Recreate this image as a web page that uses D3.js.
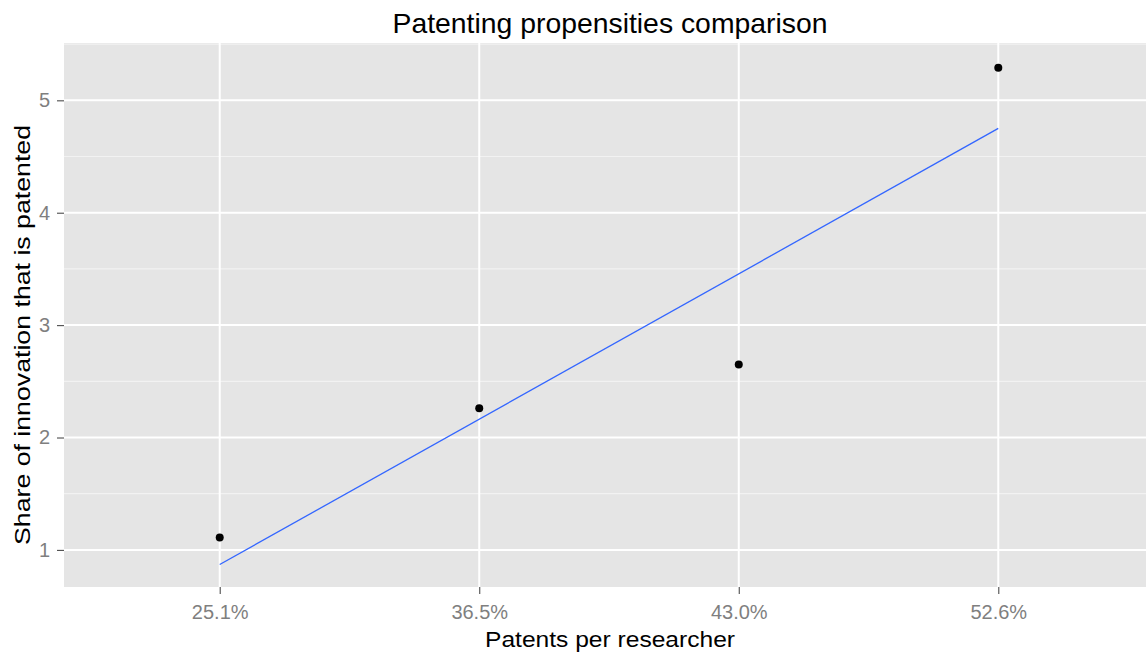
<!DOCTYPE html>
<html>
<head>
<meta charset="utf-8">
<script src="https://cdn.jsdelivr.net/npm/d3@7"></script>
<style>
  html, body { margin: 0; padding: 0; background: #ffffff; }
  svg { display: block; }
</style>
</head>
<body>
<svg id="chart" width="1146" height="653"></svg>
<script>
// ---- data ----
const categories = ["25.1%", "36.5%", "43.0%", "52.6%"];
const shareValues = [1.11, 2.26, 2.65, 5.29];
const fitValues = [0.87, 4.75];          // fitted line at first and last category
const yTicks = [1, 2, 3, 4, 5];
const yMinorTicks = [1.5, 2.5, 3.5, 4.5, 5.5];
const yDomain = [0.67, 5.51];
const titleText = "Patenting propensities comparison";
const xTitle = "Patents per researcher";
const yTitle = "Share of innovation that is patented";

// ---- layout ----
const W = 1146, H = 653;
const panel = { left: 64, right: 1154, top: 43, bottom: 587 };
const fontFam = "'Liberation Sans', Arial, Helvetica, sans-serif";

const svg = d3.select("#chart");

const x = d3.scalePoint().domain(categories)
  .range([panel.left, panel.right]).padding(0.6);
const y = d3.scaleLinear().domain(yDomain)
  .range([panel.bottom, panel.top]);

// panel background
svg.append("rect")
  .attr("x", panel.left).attr("y", panel.top)
  .attr("width", panel.right - panel.left)
  .attr("height", panel.bottom - panel.top)
  .attr("fill", "#E5E5E5");

const grid = svg.append("g");
// minor y gridlines
grid.selectAll("line.minor").data(yMinorTicks.filter(v => v >= yDomain[0] && v <= yDomain[1]))
  .join("line").attr("class", "minor")
  .attr("x1", panel.left).attr("x2", panel.right)
  .attr("y1", d => y(d)).attr("y2", d => y(d))
  .attr("stroke", "#F2F2F2").attr("stroke-width", 1.2);
// major y gridlines
grid.selectAll("line.majy").data(yTicks)
  .join("line").attr("class", "majy")
  .attr("x1", panel.left).attr("x2", panel.right)
  .attr("y1", d => y(d)).attr("y2", d => y(d))
  .attr("stroke", "#FFFFFF").attr("stroke-width", 2);
// major x gridlines
grid.selectAll("line.majx").data(categories)
  .join("line").attr("class", "majx")
  .attr("x1", d => x(d)).attr("x2", d => x(d))
  .attr("y1", panel.top).attr("y2", panel.bottom)
  .attr("stroke", "#FFFFFF").attr("stroke-width", 2);

// fitted line
const fitData = [
  { c: categories[0], v: fitValues[0] },
  { c: categories[categories.length - 1], v: fitValues[1] }
];
svg.append("path")
  .datum(fitData)
  .attr("d", d3.line().x(d => x(d.c)).y(d => y(d.v)))
  .attr("fill", "none")
  .attr("stroke", "#3366FF")
  .attr("stroke-width", 1.3);

// points
svg.append("g").selectAll("circle")
  .data(categories.map((c, i) => ({ c, v: shareValues[i] })))
  .join("circle")
  .attr("cx", d => x(d.c)).attr("cy", d => y(d.v))
  .attr("r", 4).attr("fill", "#000000");

// axes
const xAxis = svg.append("g")
  .attr("transform", `translate(0,${panel.bottom})`)
  .call(d3.axisBottom(x).tickSize(7).tickPadding(11));
const yAxis = svg.append("g")
  .attr("transform", `translate(${panel.left},0)`)
  .call(d3.axisLeft(y).tickValues(yTicks).tickFormat(d3.format("d")).tickSize(7).tickPadding(7));

[xAxis, yAxis].forEach(a => {
  a.select(".domain").remove();
  a.selectAll(".tick line").attr("stroke", "#4D4D4D").attr("stroke-width", 1.1);
  a.selectAll(".tick text")
    .attr("fill", "#7F7F7F")
    .style("font-family", fontFam)
    .style("font-size", "20px");
});

// title
svg.append("text")
  .attr("x", 610).attr("y", 33)
  .attr("text-anchor", "middle")
  .attr("textLength", 435).attr("lengthAdjust", "spacingAndGlyphs")
  .style("font-family", fontFam).style("font-size", "28px")
  .attr("fill", "#000000")
  .text(titleText);

// x axis title
svg.append("text")
  .attr("x", 610).attr("y", 647)
  .attr("text-anchor", "middle")
  .attr("textLength", 250).attr("lengthAdjust", "spacingAndGlyphs")
  .style("font-family", fontFam).style("font-size", "22px")
  .attr("fill", "#000000")
  .text(xTitle);

// y axis title
svg.append("text")
  .attr("transform", "translate(30,335) rotate(-90)")
  .attr("text-anchor", "middle")
  .attr("textLength", 420).attr("lengthAdjust", "spacingAndGlyphs")
  .style("font-family", fontFam).style("font-size", "22px")
  .attr("fill", "#000000")
  .text(yTitle);
</script>
</body>
</html>
